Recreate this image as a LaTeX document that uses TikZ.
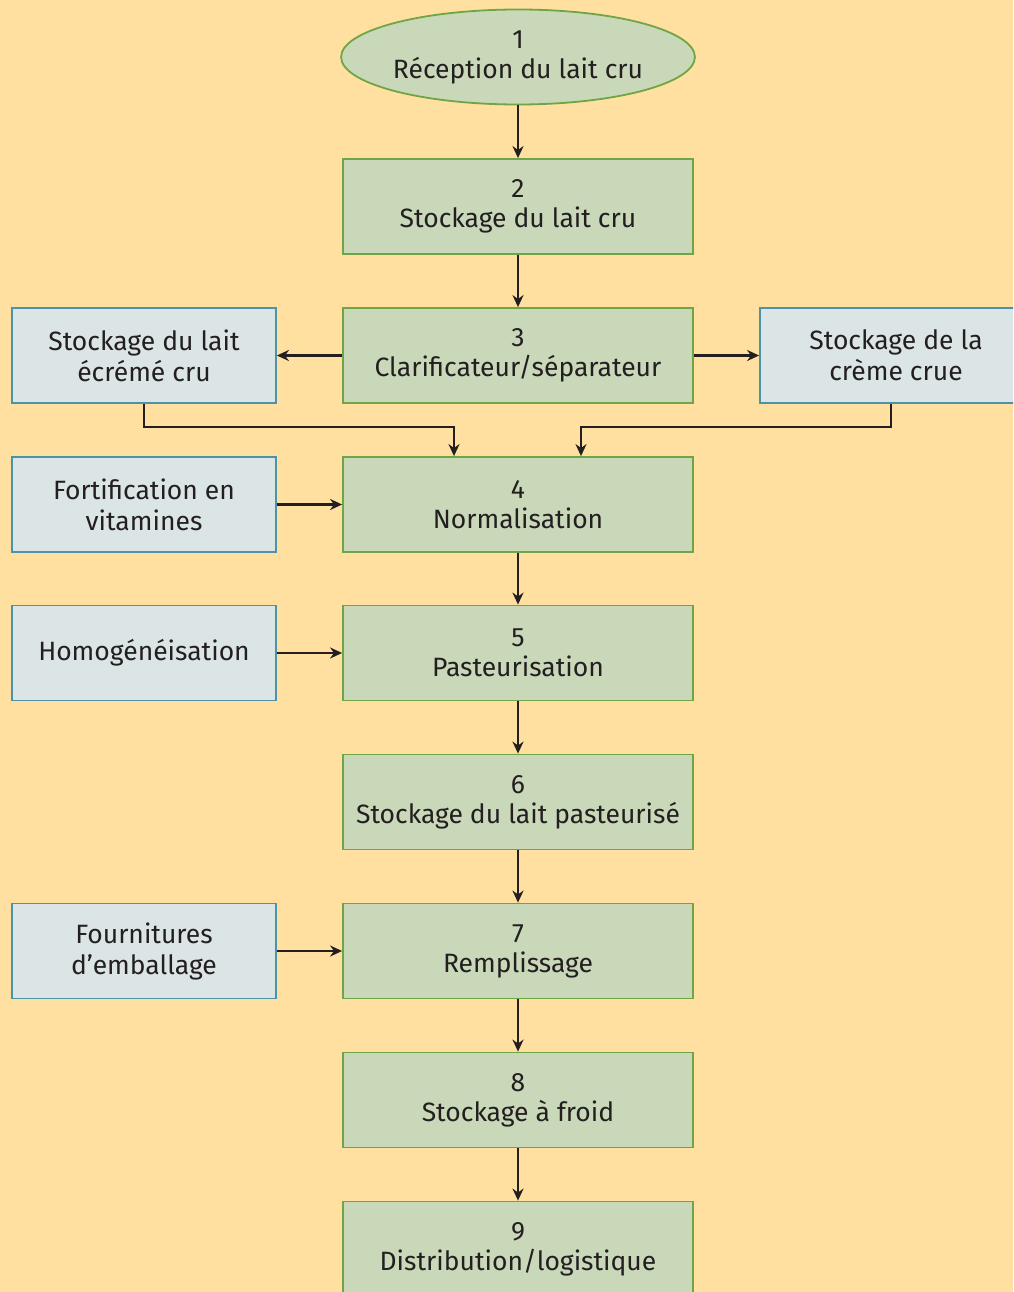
\documentclass[tikz,border=0pt]{standalone}
\usepackage{fontspec}
\setmainfont{Fira Sans}
\usetikzlibrary{shapes.geometric,arrows.meta}
\definecolor{bgpaper}{RGB}{255,224,160}
\definecolor{stepfill}{RGB}{201,216,185}
\definecolor{stepline}{RGB}{112,165,70}
\definecolor{sidefill}{RGB}{220,229,230}
\definecolor{sideline}{RGB}{74,147,168}
\definecolor{ink}{RGB}{35,31,32}
\tikzset{
  stepbox/.style={draw=stepline, fill=stepfill, line width=1.8pt,
    minimum width=350pt, minimum height=95pt, align=center,
    inner sep=0pt, text=ink, font=\fontsize{26.5}{30}\selectfont},
  startnode/.style={stepbox, ellipse},
  sidebox/.style={draw=sideline, fill=sidefill, line width=1.8pt,
    minimum width=264pt, minimum height=95pt, align=center,
    inner sep=0pt, text=ink, font=\fontsize{26.5}{31}\selectfont},
  flow/.style={draw=ink, line width=2.2pt, -{Stealth[length=12pt,width=11pt]}},
}
\begin{document}
\begin{tikzpicture}[x=1pt,y=-1pt]
\useasboundingbox (0,0) rectangle (1013,1292);
\fill[bgpaper] (0,0) rectangle (1013,1292);
\begin{scope}
\clip (0,0) rectangle (1013,1292);
% main process column
\node[startnode] (s1) at (518,57) {1\\Réception du lait cru};
\node[stepbox] (s2) at (518,206.5) {2\\Stockage du lait cru};
\node[stepbox] (s3) at (518,355.5) {3\\Clarificateur/séparateur};
\node[stepbox] (s4) at (518,504.5) {4\\Normalisation};
\node[stepbox] (s5) at (518,653) {5\\Pasteurisation};
\node[stepbox] (s6) at (518,802) {6\\Stockage du lait pasteurisé};
\node[stepbox] (s7) at (518,951) {7\\Remplissage};
\node[stepbox] (s8) at (518,1100) {8\\Stockage à froid};
\node[stepbox] (s9) at (518,1249) {9\\Distribution/logistique};
% side inputs and outputs
\node[sidebox] (skim) at (144,355.5) {Stockage du lait\\écrémé cru};
\node[sidebox, minimum width=272pt] (cream) at (896,355.5) {Stockage de la\\crème crue};
\node[sidebox] (vit) at (144,504.5) {Fortification en\\vitamines};
\node[sidebox] (homo) at (144,653) {Homogénéisation};
\node[sidebox] (pack) at (144,951) {Fournitures\\d’emballage};
% links
\draw[flow] (s1) -- (s2);
\draw[flow] (s2) -- (s3);
\draw[flow] (s4) -- (s5);
\draw[flow] (s5) -- (s6);
\draw[flow] (s6) -- (s7);
\draw[flow] (s7) -- (s8);
\draw[flow] (s8) -- (s9);
\draw[flow] (s3.west) -- (skim.east);
\draw[flow] (s3.east) -- (cream.west);
\draw[flow] (vit) -- (s4);
\draw[flow] (homo) -- (s5);
\draw[flow] (pack) -- (s7);
\coordinate (jl) at (454,427);
\coordinate (jr) at (581,427);
\coordinate (cdrop) at (891,0);
\draw[flow] (skim.south) |- (jl) -- (jl |- s4.north);
\draw[flow] (cdrop |- cream.south) |- (jr) -- (jr |- s4.north);
\end{scope}
\end{tikzpicture}
\end{document}
